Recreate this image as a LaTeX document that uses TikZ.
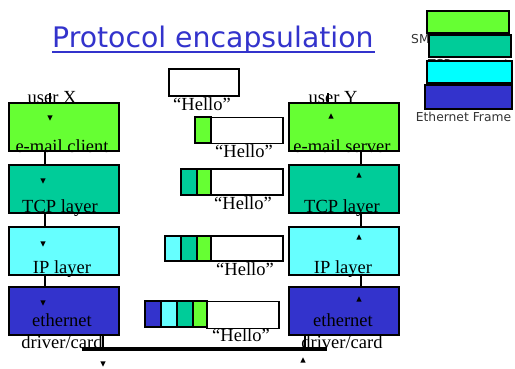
\documentclass[tikz,border=0pt]{standalone}
\usepackage{fontspec}
\setmainfont{Liberation Serif}
\newfontfamily\titlefont{DejaVu Sans}
\definecolor{cgreen}{HTML}{66FF33}
\definecolor{cteal}{HTML}{00CC99}
\definecolor{ccyan}{HTML}{66FFFF}
\definecolor{lcyan}{HTML}{00FFFF}
\definecolor{cblue}{HTML}{3333CC}
\definecolor{ctitle}{HTML}{3333CC}
\begin{document}
\begin{tikzpicture}[x=1pt,y=-1pt,
  layerbox/.style={draw=black,line width=1.6pt,minimum width=110pt,minimum height=48pt,inner sep=0pt},
  hdr/.style={draw=black,line width=1.4pt,minimum width=16pt,minimum height=26pt,inner sep=0pt},
  databox/.style={draw=black,line width=1.4pt,fill=white,minimum width=72pt,minimum height=26pt,inner sep=0pt},
  legbox/.style={draw=black,line width=1.6pt,minimum height=22pt,inner sep=0pt},
  lbl/.style={anchor=base,inner sep=0pt,font=\fontsize{18.5}{20}\selectfont},
  leg/.style={inner sep=0pt,font=\titlefont\fontsize{12.3}{14}\selectfont,text=black!80},
  conn/.style={draw=black,line width=1.2pt},
  dtri/.pic={\fill (-2.6,-2.6) -- (2.6,-2.6) -- (0,2.6) -- cycle;},
  utri/.pic={\fill (-2.6,2.6) -- (2.6,2.6) -- (0,-2.6) -- cycle;}
]
\useasboundingbox (0,0) rectangle (515,368);
\fill[white] (0,0) rectangle (515,368);

% title
\node[anchor=base west,inner sep=0pt,text=ctitle,font=\titlefont\fontsize{28.3}{30}\selectfont] (title) at (52,47) {Protocol encapsulation};
\draw[ctitle,line width=1.4pt] (title.base west) ++(0,5) coordinate (ulA) -- ++(323,0) coordinate (ulB);

% legend
\node[leg,anchor=base west] (lsmtp) at (411,43) {SMTP message};
\node[leg,anchor=base west] (ltcp) at (428,68) {TCP segment};
\node[legbox,fill=cgreen,minimum width=82pt] (lg1) at (468,22) {};
\node[legbox,fill=cteal,minimum width=82pt] (lg2) at (470,46) {};
\node[legbox,fill=lcyan,minimum width=85pt] (lg3) at (469.5,72) {};
\node[legbox,fill=cblue,minimum width=87pt,minimum height=24pt] (lg4) at (468.5,97) {};
\node[leg,anchor=base] (leth) at (463.5,121) {Ethernet Frame};

% user labels (behind boxes)
\node[lbl] (ux) at (52,103) {user X};
\node[lbl] (uy) at (333,103) {user Y};
\coordinate (uxl) at (50,93);
\coordinate (uyl) at (328,93);

% left stack
\node[layerbox,fill=cgreen] (lc) at (64,127) {};
\node[layerbox,fill=cteal] (lt) at (64,189) {};
\node[layerbox,fill=ccyan] (li) at (64,251) {};
\node[layerbox,fill=cblue] (le) at (64,311) {};
% right stack
\node[layerbox,fill=cgreen] (rc) at (344,127) {};
\node[layerbox,fill=cteal] (rt) at (344,189) {};
\node[layerbox,fill=ccyan] (ri) at (344,251) {};
\node[layerbox,fill=cblue] (re) at (344,311) {};

% connectors
\draw[conn] (uxl) -- ([xshift=-14pt]lc.north);
\draw[conn] (uyl) -- ([xshift=-16pt]rc.north);
\draw[conn] ([xshift=-19pt]lc.south) -- ([xshift=-19pt]lt.north);
\draw[conn] ([xshift=-19pt]lt.south) -- ([xshift=-19pt]li.north);
\draw[conn] ([xshift=-19pt]li.south) -- ([xshift=-19pt]le.north);
\draw[conn] ([xshift=17pt]rc.south) -- ([xshift=17pt]rt.north);
\draw[conn] ([xshift=17pt]rt.south) -- ([xshift=17pt]ri.north);
\draw[conn] ([xshift=17pt]ri.south) -- ([xshift=17pt]re.north);
\coordinate (busL) at (82,349);
\coordinate (busR) at (327,349);
\coordinate (tapL) at (103,349);
\coordinate (tapR) at (305,349);
\draw[conn] ([xshift=39pt]le.south) -- (tapL);
\draw[conn] ([xshift=-39pt]re.south) -- (tapR);
\draw[black,line width=3.2pt] (busL) -- (busR);

% motion arrowheads
\pic at (50,118) {dtri};
\pic at (43,181) {dtri};
\pic at (43,244) {dtri};
\pic at (43,303) {dtri};
\pic at (103,364) {dtri};
\pic at (331,116) {utri};
\pic at (359,175) {utri};
\pic at (359,237) {utri};
\pic at (359,299) {utri};
\pic at (303,360) {utri};

% layer labels
\node[lbl] (tlc) at (62,152) {e-mail client};
\node[lbl] (tlt) at (60,212) {TCP layer};
\node[lbl] (tli) at (62,273) {IP layer};
\node[lbl] (tle) at (62,326) {ethernet};
\node[lbl] (tld) at (62,348) {driver/card};
\node[lbl] (trc) at (342,152) {e-mail server};
\node[lbl] (trt) at (342,212) {TCP layer};
\node[lbl] (tri) at (343,273) {IP layer};
\node[lbl] (tre) at (343,326) {ethernet};
\node[lbl] (trd) at (342,348) {driver/card};

% packets
\node[databox,minimum width=70pt,minimum height=27pt] (d1) at (204,82.5) {};
\node[lbl] (h1) at (202,110) {``Hello''};

\node[databox] (d2) at (247,130.5) {};
\node[hdr,fill=cgreen] (g2) at (203,130) {};
\node[lbl] (h2) at (244,157) {``Hello''};

\node[databox] (d3) at (247,182) {};
\node[hdr,fill=cgreen,minimum width=14pt] (g3) at (204,182) {};
\node[hdr,fill=cteal] (t3) at (189,182) {};
\node[lbl] (h3) at (243,209) {``Hello''};

\node[databox,minimum height=25pt] (d4) at (247,248.5) {};
\node[hdr,fill=cgreen,minimum width=14pt,minimum height=25pt] (g4) at (204,248.5) {};
\node[hdr,fill=cteal,minimum height=25pt] (t4) at (189,248.5) {};
\node[hdr,fill=ccyan,minimum height=25pt] (c4) at (173,248.5) {};
\node[lbl] (h4) at (245,275) {``Hello''};

\node[databox,minimum height=27pt] (d5) at (243,315) {};
\node[hdr,fill=cgreen,minimum width=14pt] (g5) at (200,314) {};
\node[hdr,fill=cteal] (t5) at (185,314) {};
\node[hdr,fill=ccyan] (c5) at (169,314) {};
\node[hdr,fill=cblue] (b5) at (153,314) {};
\node[lbl] (h5) at (241,341) {``Hello''};
\end{tikzpicture}
\end{document}
